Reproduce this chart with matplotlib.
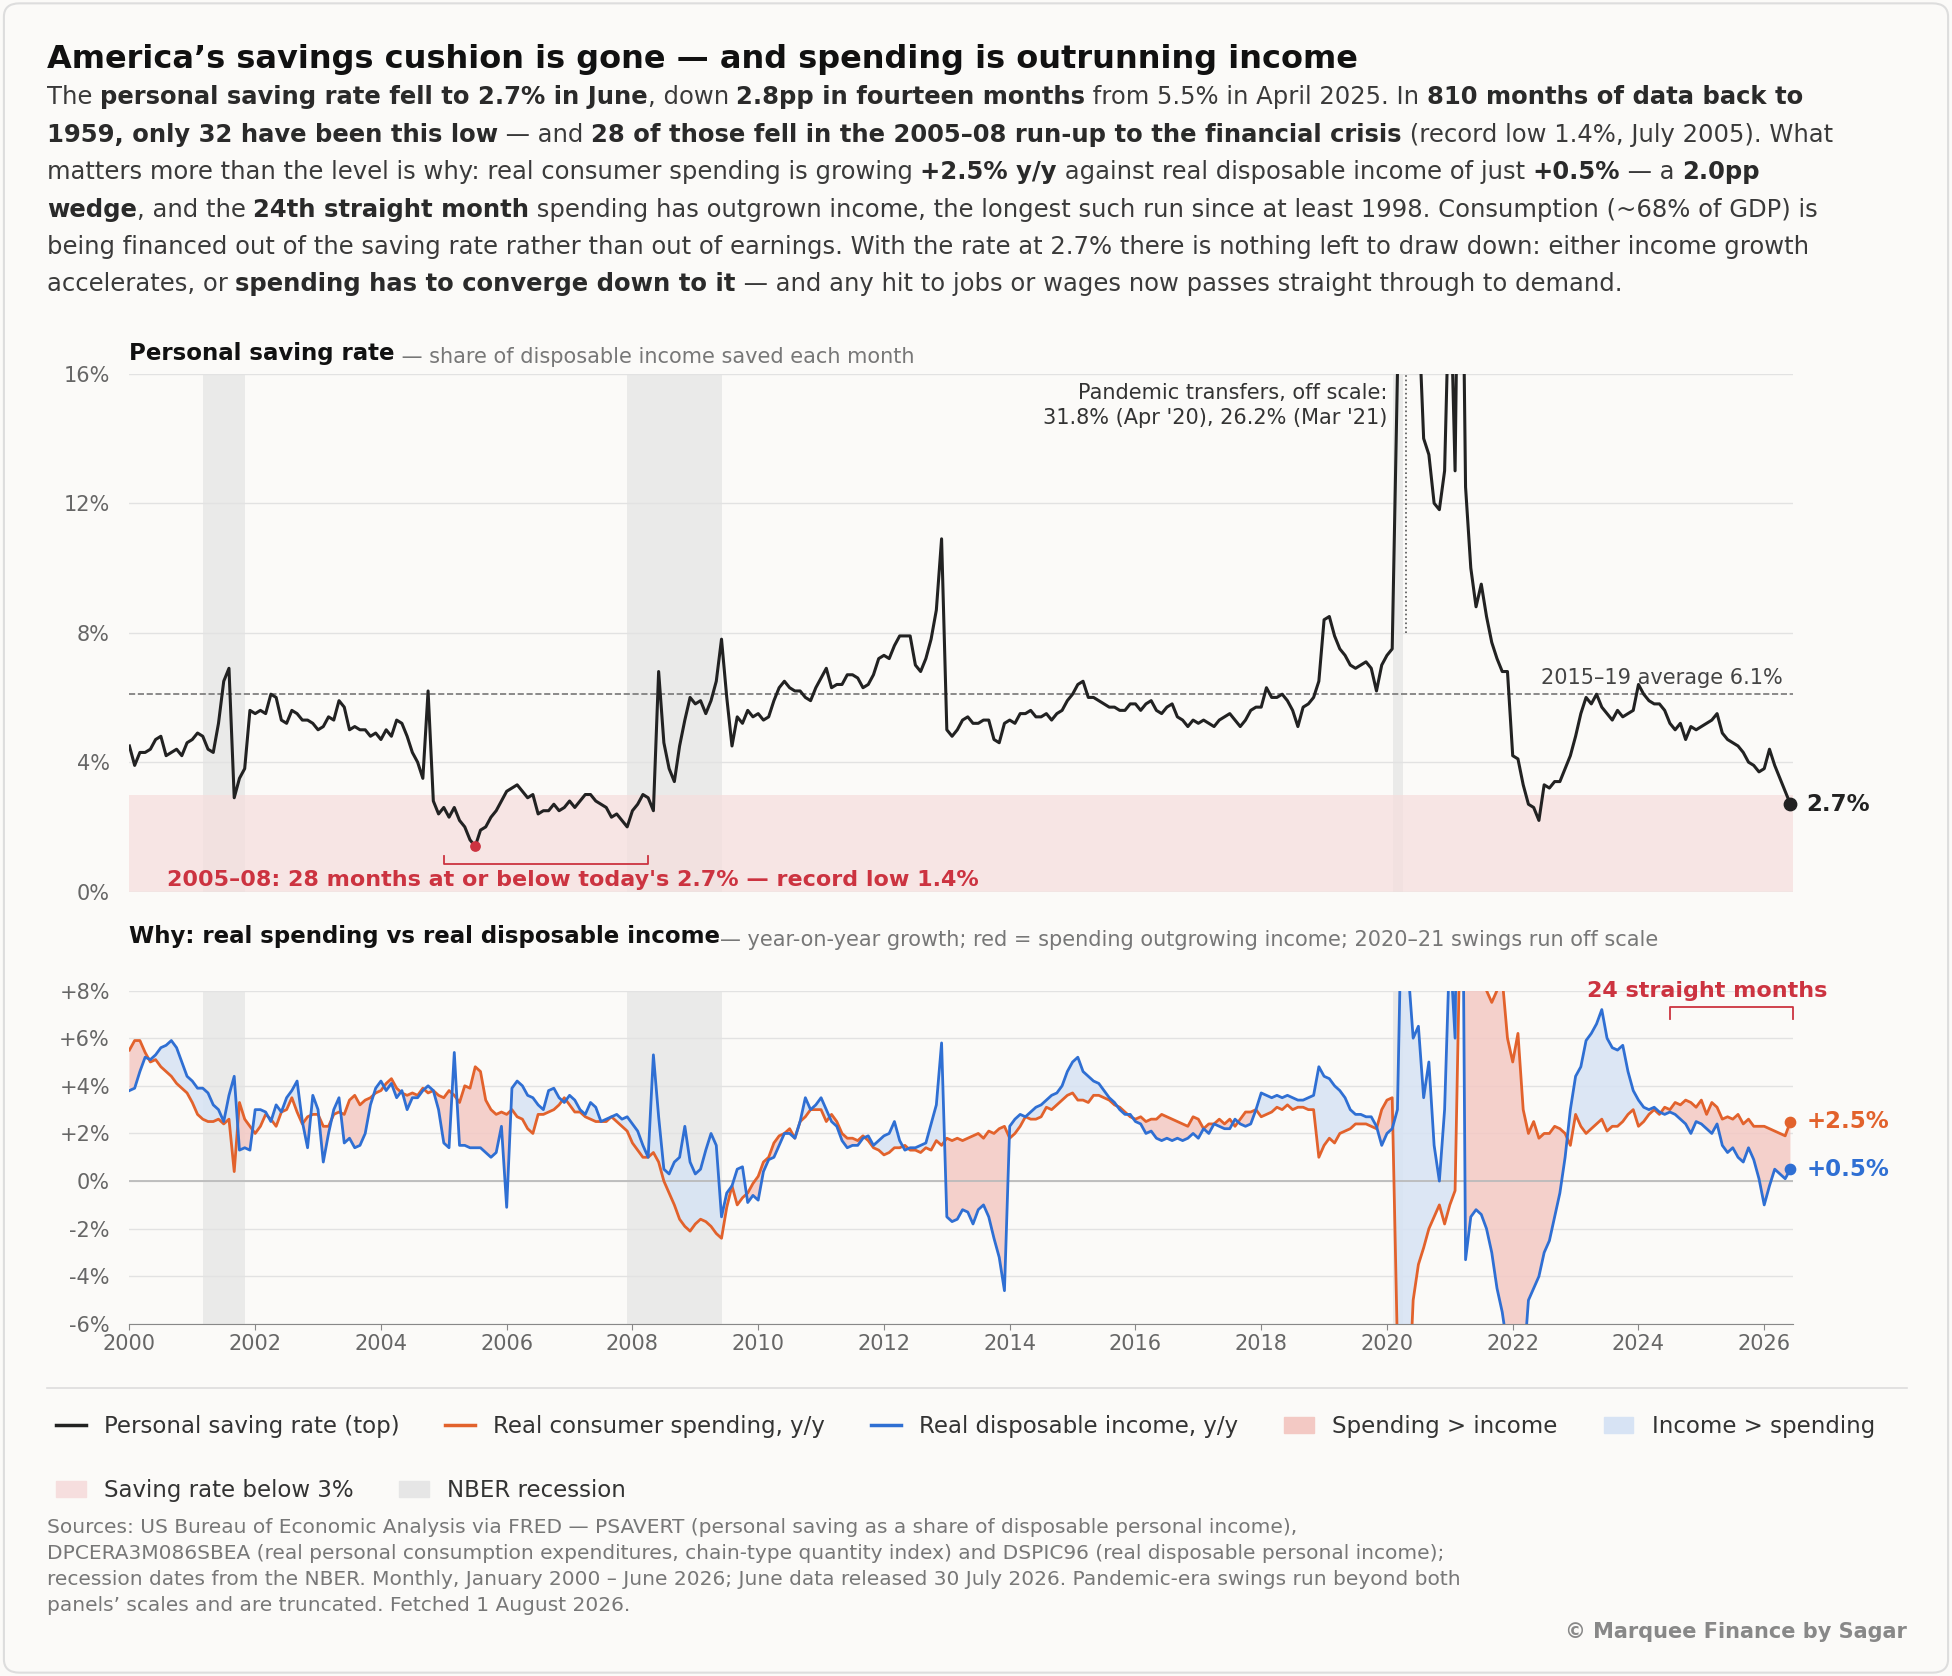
import numpy as np
import matplotlib.pyplot as plt
from matplotlib.patches import FancyBboxPatch


# Savings cushion chart: saving rate vs spending / income growth

def rich_line(fig, x, y, text, size, color, renderer, bold_color=None):
    """Draw one line of text where **...** parts are bold, piece after piece."""
    parts = text.split('**')
    for i, p in enumerate(parts):
        if not p:
            continue
        t = fig.text(x, y, p, fontsize=size, fontweight='bold' if i % 2 else 'normal',
                     color=(bold_color or color) if i % 2 else color, va='top', ha='left')
        bb = t.get_window_extent(renderer)
        x += bb.width / fig.bbox.width
    return x


# --- データ (monthly, Jan 2000 - Jun 2026) ---
saving = [
    4.5, 3.9, 4.3, 4.3, 4.4, 4.7, 4.8, 4.2, 4.3, 4.4, 4.2, 4.6,
    4.7, 4.9, 4.8, 4.4, 4.3, 5.2, 6.5, 6.9, 2.9, 3.5, 3.8, 5.6,
    5.5, 5.6, 5.5, 6.1, 6.0, 5.3, 5.2, 5.6, 5.5, 5.3, 5.3, 5.2,
    5.0, 5.1, 5.4, 5.3, 5.9, 5.7, 5.0, 5.1, 5.0, 5.0, 4.8, 4.9,
    4.7, 5.0, 4.8, 5.3, 5.2, 4.8, 4.3, 4.0, 3.5, 6.2, 2.8, 2.4,
    2.6, 2.3, 2.6, 2.2, 2.0, 1.6, 1.4, 1.9, 2.0, 2.3, 2.5, 2.8,
    3.1, 3.2, 3.3, 3.1, 2.9, 3.0, 2.4, 2.5, 2.5, 2.7, 2.5, 2.6,
    2.8, 2.6, 2.8, 3.0, 3.0, 2.8, 2.7, 2.6, 2.3, 2.4, 2.2, 2.0,
    2.5, 2.7, 3.0, 2.9, 2.5, 6.8, 4.6, 3.8, 3.4, 4.5, 5.3, 6.0,
    5.8, 5.9, 5.5, 5.9, 6.5, 7.8, 6.0, 4.5, 5.4, 5.2, 5.6, 5.4,
    5.5, 5.3, 5.4, 5.9, 6.3, 6.5, 6.3, 6.2, 6.2, 6.0, 5.9, 6.3,
    6.6, 6.9, 6.3, 6.4, 6.4, 6.7, 6.7, 6.6, 6.3, 6.4, 6.7, 7.2,
    7.3, 7.2, 7.6, 7.9, 7.9, 7.9, 7.0, 6.8, 7.2, 7.8, 8.7, 10.9,
    5.0, 4.8, 5.0, 5.3, 5.4, 5.2, 5.2, 5.3, 5.3, 4.7, 4.6, 5.2,
    5.3, 5.2, 5.5, 5.5, 5.6, 5.4, 5.4, 5.5, 5.3, 5.5, 5.6, 5.9,
    6.1, 6.4, 6.5, 6.0, 6.0, 5.9, 5.8, 5.7, 5.7, 5.6, 5.6, 5.8,
    5.8, 5.6, 5.8, 5.9, 5.6, 5.5, 5.7, 5.8, 5.4, 5.3, 5.1, 5.3,
    5.2, 5.3, 5.2, 5.1, 5.3, 5.4, 5.5, 5.3, 5.1, 5.3, 5.6, 5.7,
    5.7, 6.3, 6.0, 6.0, 6.1, 5.9, 5.6, 5.1, 5.7, 5.8, 6.0, 6.5,
    8.4, 8.5, 7.9, 7.5, 7.3, 7.0, 6.9, 7.0, 7.1, 6.9, 6.2, 7.0,
    7.3, 7.5, 16.0, 31.8, 24.0, 19.0, 18.0, 14.0, 13.5, 12.0, 11.8, 13.0,
    19.5, 13.0, 26.2, 12.5, 10.0, 8.8, 9.5, 8.5, 7.7, 7.2, 6.8, 6.8,
    4.2, 4.1, 3.3, 2.7, 2.6, 2.2, 3.3, 3.2, 3.4, 3.4, 3.8, 4.2,
    4.8, 5.5, 6.0, 5.8, 6.1, 5.7, 5.5, 5.3, 5.6, 5.4, 5.5, 5.6,
    6.4, 6.1, 5.9, 5.8, 5.8, 5.6, 5.2, 5.0, 5.2, 4.7, 5.1, 5.0,
    5.1, 5.2, 5.3, 5.5, 4.9, 4.7, 4.6, 4.5, 4.3, 4.0, 3.9, 3.7,
    3.8, 4.4, 3.9, 3.5, 3.1, 2.7,
]
spending = [
    5.5, 5.9, 5.9, 5.4, 5.0, 5.1, 4.8, 4.6, 4.4, 4.1, 3.9, 3.7,
    3.3, 2.8, 2.6, 2.5, 2.5, 2.6, 2.4, 2.6, 0.4, 3.3, 2.6, 2.3,
    2.0, 2.3, 2.8, 2.6, 2.3, 2.9, 3.0, 3.5, 2.9, 2.4, 2.7, 2.8,
    2.8, 2.3, 2.3, 2.8, 2.9, 2.8, 3.4, 3.6, 3.2, 3.4, 3.5, 3.7,
    3.8, 4.1, 4.3, 3.9, 3.7, 3.6, 3.7, 3.6, 3.9, 3.7, 3.8, 3.6,
    3.5, 3.8, 3.6, 3.3, 4.0, 3.9, 4.8, 4.6, 3.4, 3.0, 2.8, 2.9,
    2.8, 3.0, 2.7, 2.6, 2.2, 2.0, 2.8, 2.8, 2.9, 3.0, 3.2, 3.5,
    3.2, 2.9, 2.9, 2.7, 2.6, 2.5, 2.5, 2.5, 2.7, 2.5, 2.3, 2.1,
    1.6, 1.3, 1.0, 1.0, 1.2, 0.8, 0.0, -0.5, -1.0, -1.6, -1.9, -2.1,
    -1.8, -1.6, -1.7, -1.9, -2.2, -2.4, -1.1, -0.2, -1.0, -0.7, -0.5, -0.1,
    0.2, 0.8, 1.0, 1.6, 1.9, 2.0, 2.2, 1.8, 2.5, 2.7, 3.0, 3.0,
    3.0, 2.5, 2.8, 2.5, 2.0, 1.8, 1.8, 1.7, 1.9, 1.7, 1.4, 1.3,
    1.1, 1.2, 1.4, 1.4, 1.5, 1.3, 1.3, 1.2, 1.4, 1.3, 1.7, 1.5,
    1.8, 1.7, 1.8, 1.7, 1.8, 1.9, 2.0, 1.8, 2.1, 2.0, 2.2, 2.3,
    1.8, 2.0, 2.3, 2.7, 2.6, 2.6, 2.7, 3.1, 3.0, 3.2, 3.4, 3.6,
    3.7, 3.4, 3.4, 3.3, 3.6, 3.6, 3.5, 3.4, 3.2, 3.1, 2.9, 2.7,
    2.6, 2.7, 2.5, 2.6, 2.6, 2.8, 2.7, 2.6, 2.5, 2.4, 2.3, 2.7,
    2.6, 2.2, 2.4, 2.4, 2.6, 2.4, 2.6, 2.3, 2.6, 2.9, 2.9, 3.0,
    2.7, 2.8, 2.9, 3.1, 3.0, 3.2, 3.0, 3.1, 3.1, 3.0, 3.0, 1.0,
    1.5, 1.8, 1.6, 2.0, 2.1, 2.2, 2.4, 2.4, 2.4, 2.3, 2.2, 3.0,
    3.4, 3.5, -7.0, -17.0, -10.0, -5.0, -3.5, -2.8, -2.0, -1.5, -1.0, -1.8,
    -1.0, -0.4, 11.0, 28.0, 17.0, 11.0, 9.0, 8.0, 7.5, 8.0, 8.5, 6.0,
    5.0, 6.2, 3.0, 2.0, 2.5, 1.8, 2.0, 2.0, 2.3, 2.2, 2.0, 1.5,
    2.8, 2.3, 2.0, 2.2, 2.4, 2.6, 2.1, 2.3, 2.3, 2.5, 2.8, 3.0,
    2.3, 2.5, 2.8, 3.0, 2.8, 3.1, 3.0, 3.3, 3.2, 3.4, 3.3, 3.1,
    3.4, 2.8, 3.3, 3.1, 2.6, 2.7, 2.6, 2.8, 2.4, 2.6, 2.3, 2.3,
    2.3, 2.2, 2.1, 2.0, 1.9, 2.5,
]
income = [
    3.8, 3.9, 4.6, 5.2, 5.1, 5.3, 5.6, 5.7, 5.9, 5.6, 5.0, 4.4,
    4.2, 3.9, 3.9, 3.7, 3.2, 3.0, 2.5, 3.6, 4.4, 1.3, 1.4, 1.3,
    3.0, 3.0, 2.9, 2.5, 3.2, 2.9, 3.5, 3.8, 4.2, 2.5, 1.4, 3.6,
    3.0, 0.8, 2.0, 3.0, 3.5, 1.6, 1.8, 1.4, 1.5, 2.0, 3.2, 3.9,
    4.2, 3.8, 4.1, 3.5, 3.8, 3.0, 3.5, 3.5, 3.8, 4.0, 3.8, 3.0,
    1.6, 1.4, 5.4, 1.5, 1.5, 1.4, 1.4, 1.4, 1.2, 1.0, 1.2, 2.3,
    -1.1, 3.9, 4.2, 4.0, 3.6, 3.5, 3.2, 3.0, 3.8, 3.9, 3.5, 3.3,
    3.6, 3.4, 3.0, 2.8, 3.3, 3.1, 2.5, 2.6, 2.7, 2.8, 2.6, 2.7,
    2.4, 2.1, 1.5, 1.0, 5.3, 2.7, 0.5, 0.3, 0.8, 1.0, 2.3, 0.8,
    0.3, 0.5, 1.3, 2.0, 1.5, -1.5, -0.5, -0.2, 0.5, 0.6, -0.9, -0.6,
    -0.8, 0.4, 0.9, 1.0, 1.5, 2.0, 2.0, 1.8, 2.5, 3.5, 3.0, 3.2,
    3.5, 3.0, 2.5, 2.3, 1.7, 1.4, 1.5, 1.5, 1.8, 1.9, 1.5, 1.7,
    1.9, 2.0, 2.5, 1.7, 1.3, 1.4, 1.4, 1.5, 1.6, 2.4, 3.2, 5.8,
    -1.5, -1.7, -1.6, -1.2, -1.3, -1.8, -1.2, -1.0, -1.5, -2.4, -3.2, -4.6,
    2.3, 2.6, 2.8, 2.7, 2.9, 3.1, 3.2, 3.4, 3.6, 3.7, 4.0, 4.6,
    5.0, 5.2, 4.6, 4.4, 4.2, 4.1, 3.8, 3.5, 3.3, 3.0, 2.8, 2.8,
    2.5, 2.4, 2.0, 2.1, 1.8, 1.7, 1.8, 1.7, 1.8, 1.7, 1.8, 2.0,
    1.8, 2.2, 2.0, 2.4, 2.3, 2.2, 2.2, 2.6, 2.4, 2.3, 2.4, 3.0,
    3.7, 3.6, 3.5, 3.6, 3.5, 3.6, 3.5, 3.4, 3.4, 3.5, 3.6, 4.8,
    4.4, 4.3, 4.0, 3.8, 3.5, 3.0, 2.8, 2.8, 2.7, 2.7, 2.3, 1.5,
    2.0, 2.2, 3.0, 14.0, 9.0, 6.0, 6.5, 3.5, 5.0, 1.5, 0.0, 3.0,
    10.0, 6.0, 27.0, -3.3, -1.5, -1.2, -1.4, -2.0, -3.0, -4.5, -5.5, -7.0,
    -11.0, -9.0, -8.0, -5.0, -4.5, -4.0, -3.0, -2.5, -1.5, -0.5, 1.0, 3.0,
    4.4, 4.8, 5.9, 6.2, 6.6, 7.2, 6.0, 5.6, 5.5, 5.7, 4.6, 3.8,
    3.4, 3.1, 3.0, 3.1, 2.9, 2.8, 2.9, 2.8, 2.6, 2.4, 2.0, 2.5,
    2.4, 2.2, 2.0, 2.4, 1.5, 1.2, 1.4, 1.0, 0.8, 1.4, 0.9, 0.1,
    -1.0, -0.2, 0.5, 0.3, 0.1, 0.5,
]
dates = 2000 + np.arange(len(saving)) / 12.0
saving = np.array(saving)
spending = np.array(spending)
income = np.array(income)
recessions = [(2001.17, 2001.84), (2007.92, 2009.42), (2020.09, 2020.26)]

# --- colours ---
bg = '#fbfaf8'
ink = '#222222'
grey = '#777777'
orange = '#e2622c'
blue = '#2f6fd3'
red = '#cc3340'
plt.rcParams['font.family'] = ['DejaVu Sans']

fig = plt.figure(figsize=(19.52, 16.76), dpi=100, facecolor=bg)
fig.patches.append(FancyBboxPatch((0.002, 0.002), 0.996, 0.996, boxstyle='round,pad=0,rounding_size=0.008',
                                  transform=fig.transFigure, facecolor=bg, edgecolor='#dddddd', lw=1.5,
                                  zorder=-10))
renderer = fig.canvas.get_renderer()

# --- 見出し ---
fig.text(0.024, 0.974, "America\u2019s savings cushion is gone \u2014 and spending is outrunning income",
         fontsize=23, fontweight='bold', color='#111111', va='top')
body = [
    "The **personal saving rate fell to 2.7% in June**, down **2.8pp in fourteen months** from 5.5% in April 2025. In **810 months of data back to**",
    "**1959, only 32 have been this low** \u2014 and **28 of those fell in the 2005\u201308 run-up to the financial crisis** (record low 1.4%, July 2005). What",
    "matters more than the level is why: real consumer spending is growing **+2.5% y/y** against real disposable income of just **+0.5%** \u2014 a **2.0pp**",
    "**wedge**, and the **24th straight month** spending has outgrown income, the longest such run since at least 1998. Consumption (~68% of GDP) is",
    "being financed out of the saving rate rather than out of earnings. With the rate at 2.7% there is nothing left to draw down: either income growth",
    "accelerates, or **spending has to converge down to it** \u2014 and any hit to jobs or wages now passes straight through to demand.",
]
for k, line in enumerate(body):
    rich_line(fig, 0.024, 0.949 - k * 0.0223, line, 17.5, '#3a3a3a', renderer, bold_color='#2a2a2a')

# --- 上段: saving rate ---
ax1 = fig.add_axes([0.0663, 0.468, 0.852, 0.309], facecolor=bg)
for a, b in recessions:
    ax1.axvspan(a, b, color='#e6e6e6', alpha=0.8, lw=0, zorder=0)
ax1.axhspan(0, 3, color='#f6dede', alpha=0.75, lw=0, zorder=0)
ax1.axhline(6.1, color='#777777', ls='--', lw=1.2, zorder=1)
ax1.plot(dates, saving, color=ink, lw=2.2, zorder=3)
ax1.plot([2020.3, 2020.3], [8, 16], color='#555555', ls=':', lw=1.2, zorder=2)
ax1.text(2020.0, 15.7, "Pandemic transfers, off scale:\n31.8% (Apr '20), 26.2% (Mar '21)",
         ha='right', va='top', fontsize=15, color='#333333', linespacing=1.3)
ax1.text(2026.3, 6.3, "2015\u201319 average 6.1%", ha='right', va='bottom', fontsize=15, color='#444444')
ax1.scatter([dates[-1]], [saving[-1]], s=80, color=ink, zorder=5, clip_on=False)
ax1.text(dates[-1] + 0.25, saving[-1], "2.7%", fontsize=16.5, fontweight='bold', color=ink, va='center')
ax1.scatter([2005.5], [1.4], s=45, color=red, zorder=5)
ax1.plot([2005.0, 2005.0, 2008.25, 2008.25], [1.1, 0.85, 0.85, 1.1], color=red, lw=1.3)
ax1.text(2000.6, 0.35, "2005\u201308: 28 months at or below today's 2.7% \u2014 record low 1.4%",
         fontsize=16, fontweight='bold', color=red, va='center')
ax1.set_xlim(2000, 2026.45)
ax1.set_ylim(0, 16)
ax1.set_yticks([0, 4, 8, 12, 16])
ax1.set_yticklabels(['0%', '4%', '8%', '12%', '16%'])
ax1.set_xticks([])
ax1.grid(axis='y', color='#e2e2e2', lw=1)
ax1.set_axisbelow(True)
for s in ax1.spines.values():
    s.set_visible(False)
ax1.tick_params(axis='y', length=0, labelsize=15, labelcolor='#666666', pad=14)
rich_line(fig, 0.0663, 0.796, "**Personal saving rate**", 16.5, '#111111', renderer)
x = fig.texts[-1].get_window_extent(renderer).x1 / fig.bbox.width
fig.text(x, 0.793, " \u2014 share of disposable income saved each month", fontsize=15, color=grey, va='top')

# --- 下段: spending vs income ---
ax2 = fig.add_axes([0.0663, 0.210, 0.852, 0.199], facecolor=bg)
for a, b in recessions:
    ax2.axvspan(a, b, color='#e6e6e6', alpha=0.8, lw=0, zorder=0)
ax2.fill_between(dates, spending, income, where=spending > income, interpolate=True,
                 color='#f3c9c4', alpha=0.85, lw=0, zorder=1)
ax2.fill_between(dates, spending, income, where=spending <= income, interpolate=True,
                 color='#d7e3f4', alpha=0.85, lw=0, zorder=1)
ax2.axhline(0, color='#bbbbbb', lw=1.3, zorder=1)
ax2.plot(dates, spending, color=orange, lw=2.0, zorder=3)
ax2.plot(dates, income, color=blue, lw=2.0, zorder=3)
ax2.scatter([dates[-1]], [spending[-1]], s=55, color=orange, zorder=5, clip_on=False)
ax2.scatter([dates[-1]], [income[-1]], s=55, color=blue, zorder=5, clip_on=False)
ax2.text(dates[-1] + 0.25, spending[-1], "+2.5%", fontsize=16.5, fontweight='bold', color=orange, va='center')
ax2.text(dates[-1] + 0.25, income[-1], "+0.5%", fontsize=16.5, fontweight='bold', color=blue, va='center')
ax2.plot([2024.5, 2024.5, 2026.45, 2026.45], [6.8, 7.3, 7.3, 6.8], color=red, lw=1.3, clip_on=False)
ax2.text(2025.1, 7.55, "24 straight months", ha='center', va='bottom', fontsize=16, fontweight='bold', color=red)
ax2.set_xlim(2000, 2026.45)
ax2.set_ylim(-6, 8)
ax2.set_yticks([-6, -4, -2, 0, 2, 4, 6, 8])
ax2.set_yticklabels(['-6%', '-4%', '-2%', '0%', '+2%', '+4%', '+6%', '+8%'])
ax2.set_xticks(range(2000, 2027, 2))
ax2.grid(axis='y', color='#e2e2e2', lw=1)
ax2.set_axisbelow(True)
for s in ['top', 'right', 'left']:
    ax2.spines[s].set_visible(False)
ax2.spines['bottom'].set_color('#888888')
ax2.tick_params(axis='y', length=0, labelsize=15, labelcolor='#666666', pad=14)
ax2.tick_params(axis='x', length=4, color='#888888', labelsize=15, labelcolor='#666666')
fig.text(0.0663, 0.448, "Why: real spending vs real disposable income", fontsize=16.5, fontweight='bold',
         color='#111111', va='top')
x = fig.texts[-1].get_window_extent(renderer).x1 / fig.bbox.width
fig.text(x, 0.445, "\u2014 year-on-year growth; red = spending outgrowing income; 2020\u201321 swings run off scale",
         fontsize=15, color=grey, va='top')

# --- 凡例 ---
fig.add_artist(plt.Line2D([0.024, 0.977], [0.172, 0.172], transform=fig.transFigure, color='#dddddd', lw=1.2))
h_line = [plt.Line2D([], [], color=ink, lw=2.5), plt.Line2D([], [], color=orange, lw=2.5),
          plt.Line2D([], [], color=blue, lw=2.5),
          plt.Rectangle((0, 0), 1, 1, color='#f3c9c4'), plt.Rectangle((0, 0), 1, 1, color='#d7e3f4')]
lab1 = ['Personal saving rate (top)', 'Real consumer spending, y/y', 'Real disposable income, y/y',
        'Spending > income', 'Income > spending']
fig.legend(h_line, lab1, loc='upper left', bbox_to_anchor=(0.018, 0.168), ncol=5, frameon=False,
           fontsize=16.5, handlelength=1.3, columnspacing=2.0, labelcolor='#333333')
h2 = [plt.Rectangle((0, 0), 1, 1, color='#f6dede'), plt.Rectangle((0, 0), 1, 1, color='#e6e6e6')]
fig.legend(h2, ['Saving rate below 3%', 'NBER recession'], loc='upper left', bbox_to_anchor=(0.018, 0.130),
           ncol=2, frameon=False, fontsize=16.5, handlelength=1.3, columnspacing=2.0, labelcolor='#333333')

# --- 出典 ---
fig.text(0.024, 0.094,
         "Sources: US Bureau of Economic Analysis via FRED \u2014 PSAVERT (personal saving as a share of disposable personal income),\n"
         "DPCERA3M086SBEA (real personal consumption expenditures, chain-type quantity index) and DSPIC96 (real disposable personal income);\n"
         "recession dates from the NBER. Monthly, January 2000 \u2013 June 2026; June data released 30 July 2026. Pandemic-era swings run beyond both\n"
         "panels\u2019 scales and are truncated. Fetched 1 August 2026.",
         fontsize=14.5, color='#777777', va='top', linespacing=1.45)
fig.text(0.977, 0.020, "\u00a9 Marquee Finance by Sagar", fontsize=15, fontweight='bold', color='#888888',
         ha='right', va='bottom')

plt.savefig('out.png', dpi=100, facecolor=bg)
